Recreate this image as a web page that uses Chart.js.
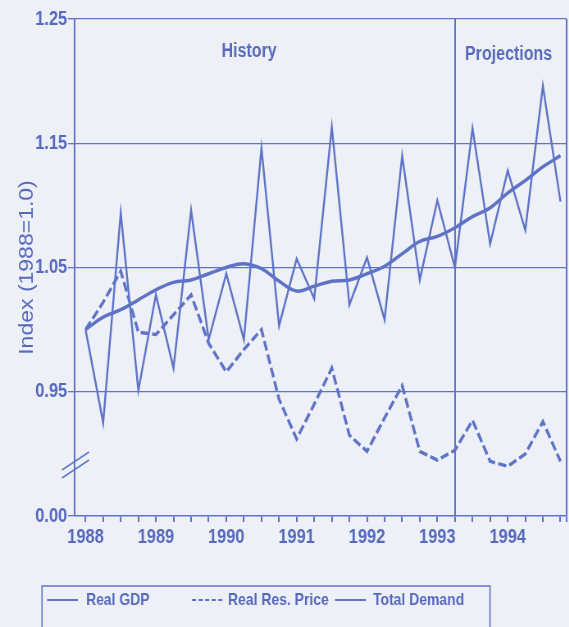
<!DOCTYPE html>
<html>
<head>
<meta charset="utf-8">
<script src="https://cdn.jsdelivr.net/npm/chart.js@4.4.1/dist/chart.umd.min.js"></script>
<style>
  html, body { margin: 0; padding: 0; background: #edf0f7; overflow: hidden; }
  #wrap { width: 569px; height: 627px; overflow: hidden; }
  /* the printed chart is squeezed horizontally, so draw wide and squeeze */
  #chart { transform: scaleX(0.82); transform-origin: 0 0; }
</style>
</head>
<body>
<div id="wrap"><canvas id="chart" width="694" height="627"></canvas></div>
<script>
// quarterly index values, 1988 Q1 .. 1994 Q4 (1988 = 1.0)
const YEARS = ['1988', '1989', '1990', '1991', '1992', '1993', '1994'];
const GDP = [1.000, 1.010, 1.016, 1.024, 1.032, 1.038, 1.040, 1.045, 1.050, 1.053, 1.049, 1.039, 1.031, 1.035,
             1.039, 1.040, 1.045, 1.051, 1.061, 1.071, 1.075, 1.082, 1.091, 1.098, 1.110, 1.120, 1.131, 1.140];
const RES_PRICE = [1.000, 1.022, 1.047, 0.998, 0.996, 1.012, 1.028, 0.989, 0.966, 0.984, 1.000, 0.944, 0.912, 0.940,
                   0.969, 0.915, 0.902, 0.929, 0.955, 0.902, 0.895, 0.903, 0.927, 0.894, 0.890, 0.900, 0.926, 0.894];
const TOTAL_DEMAND = [1.000, 0.925, 1.094, 0.951, 1.028, 0.969, 1.096, 0.992, 1.045, 0.992, 1.146, 1.003, 1.057, 1.025,
                      1.163, 1.020, 1.058, 1.008, 1.140, 1.040, 1.104, 1.050, 1.162, 1.069, 1.128, 1.080, 1.196, 1.103];
// broken axis: the bottom tick (0.85 on the scale) is labelled 0.00
const Y_TICK_VALUES = [0.85, 0.95, 1.05, 1.15, 1.25];
const Y_TICK_LABELS = ['0.00', '0.95', '1.05', '1.15', '1.25'];
const PROJECTION_START = 21; // 1993 Q2

const SX = 0.82;            // horizontal squeeze, see css
const px = x => x / SX;     // page x -> canvas x
const X_MIN = -0.6, X_MAX = 27.35;
const LINE = '#5f73c6';
const TEXT = '#5669bc';
const FONT = "'Liberation Sans', Arial, sans-serif";

const toPoints = arr => arr.map((y, i) => ({ x: i, y }));

// History / Projections labels, the axis break and the boxed legend
const decorations = {
    id: 'decorations',
    afterDraw(chart) {
        const { ctx, chartArea, scales } = chart;
        ctx.save();
        ctx.fillStyle = TEXT;
        ctx.font = 'bold 19.5px ' + FONT;
        ctx.textAlign = 'center';
        ctx.textBaseline = 'middle';
        ctx.fillText('History', scales.x.getPixelForValue(9.3), 52);
        ctx.fillText('Projections', scales.x.getPixelForValue(24.05), 55);

        // axis break marks
        ctx.strokeStyle = LINE;
        ctx.lineWidth = 1.6;
        const bx = chartArea.left;
        [0, 8].forEach(dy => {
            ctx.beginPath();
            ctx.moveTo(bx - px(13), 470 + dy);
            ctx.lineTo(bx + px(14), 452 + dy);
            ctx.stroke();
        });

        // legend box
        ctx.beginPath();
        ctx.moveTo(px(42), 640);
        ctx.lineTo(px(42), 586);
        ctx.lineTo(px(490), 586);
        ctx.lineTo(px(490), 640);
        ctx.stroke();

        const items = [[47, 78, 86], [192, 223, 228], [335, 366, 373]];
        ctx.font = 'bold 17px ' + FONT;
        ctx.textAlign = 'left';
        chart.data.datasets.forEach((ds, i) => {
            const [x1, x2, tx] = items[i];
            ctx.save();
            ctx.lineWidth = 2;
            ctx.setLineDash(ds.borderDash ? [5, 3] : []);
            ctx.beginPath();
            ctx.moveTo(px(x1), 600);
            ctx.lineTo(px(x2), 600);
            ctx.stroke();
            ctx.restore();
            ctx.fillText(ds.label, px(tx), 600);
        });
        ctx.restore();
    }
};

new Chart(document.getElementById('chart').getContext('2d'), {
    type: 'line',
    data: {
        datasets: [
            {
                label: 'Real GDP',
                data: toPoints(GDP),
                borderColor: LINE,
                borderWidth: 3.5,
                tension: 0.4,
                pointRadius: 0
            },
            {
                label: 'Real Res. Price',
                data: toPoints(RES_PRICE),
                borderColor: LINE,
                borderWidth: 3.4,
                borderDash: [10, 4],
                tension: 0,
                pointRadius: 0
            },
            {
                label: 'Total Demand',
                data: toPoints(TOTAL_DEMAND),
                borderColor: LINE,
                borderWidth: 2.4,
                tension: 0,
                pointRadius: 0
            }
        ]
    },
    options: {
        responsive: false,
        animation: false,
        layout: { padding: { top: 19, right: 1, bottom: 71, left: 0 } },
        plugins: {
            legend: { display: false },
            tooltip: { enabled: false }
        },
        scales: {
            x: {
                type: 'linear',
                min: X_MIN,
                max: X_MAX,
                afterBuildTicks: scale => {
                    scale.ticks = GDP.map((_, i) => ({ value: i })).concat([{ value: X_MAX }]);
                },
                afterFit: scale => { scale.height = 40; },
                ticks: {
                    autoSkip: false,
                    maxRotation: 0,
                    padding: 3,
                    color: TEXT,
                    font: { family: FONT, size: 20, weight: 'bold' },
                    callback: v => (Number.isInteger(v) && v % 4 === 0) ? YEARS[v / 4] : ''
                },
                grid: {
                    color: c => (c.tick && (c.tick.value === PROJECTION_START || c.tick.value === X_MAX)) ? LINE : 'transparent',
                    lineWidth: 2,
                    tickColor: LINE,
                    tickWidth: 2,
                    tickLength: 6
                },
                border: { color: LINE, width: 1.6 }
            },
            y: {
                min: Y_TICK_VALUES[0],
                max: Y_TICK_VALUES[Y_TICK_VALUES.length - 1],
                afterBuildTicks: scale => {
                    scale.ticks = Y_TICK_VALUES.map(v => ({ value: v }));
                },
                afterFit: scale => { scale.width = px(75); },
                ticks: {
                    padding: 1,
                    color: TEXT,
                    font: { family: FONT, size: 20, weight: 'bold' },
                    callback: (v, i) => Y_TICK_LABELS[i]
                },
                grid: {
                    color: c => (c.tick && c.tick.value === Y_TICK_VALUES[0]) ? 'transparent' : LINE,
                    lineWidth: 1.3,
                    tickColor: LINE,
                    tickLength: px(7)
                },
                border: { color: LINE, width: 2 },
                title: {
                    display: true,
                    text: 'Index (1988=1.0)',
                    color: TEXT,
                    font: { family: FONT, size: 23 },
                    padding: { top: 20, bottom: 0 }
                }
            }
        }
    },
    plugins: [decorations]
});
</script>
</body>
</html>
